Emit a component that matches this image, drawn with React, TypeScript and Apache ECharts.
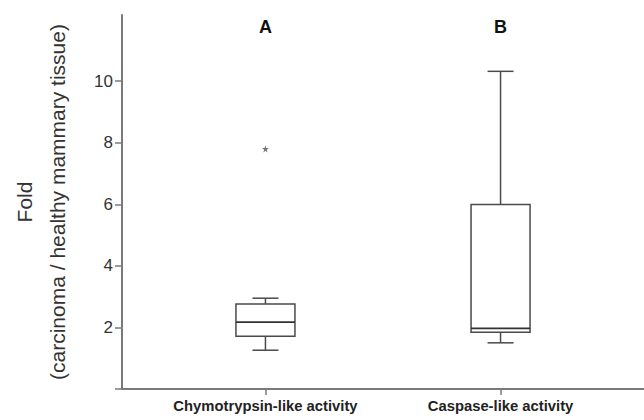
import React, { useEffect, useRef } from "react";
import * as echarts from "echarts";

const categories = ["Chymotrypsin-like activity", "Caspase-like activity"];
const panelLetters = ["A", "B"];
const whiskerLow = [1.26, 1.5];
const quartile1 = [1.71, 1.84];
const medians = [2.17, 1.97];
const quartile3 = [2.76, 5.99];
const whiskerHigh = [2.95, 10.32];
const outliers: [number, number][] = [[0, 7.8]];
const yTickLabels = [2, 4, 6, 8, 10];
const yTicks = [0, 2, 4, 6, 8, 10];

const FONT = "'Liberation Sans', Arial, Helvetica, sans-serif";

export default function App() {
  const ref = useRef<HTMLDivElement>(null);
  useEffect(() => {
    if (!ref.current) return;
    const chart = echarts.init(ref.current, null, { renderer: "svg" });
    const boxData = categories.map((_, i) => [
      i + 1,
      whiskerLow[i],
      quartile1[i],
      medians[i],
      quartile3[i],
      whiskerHigh[i],
    ]);
    const xMin = 1 - 144 / 236;
    const xMax = 2 + 144 / 236;
    const lineColor = "#4a4a4a";
    chart.setOption({
      animation: false,
      grid: { left: 122, right: -2, top: 15, bottom: 31, containLabel: false },
      xAxis: [
        {
          type: "value",
          min: xMin,
          max: xMax,
          splitLine: { show: false },
          axisLine: { show: true, lineStyle: { color: "#7a7a7a", width: 2 } },
          axisTick: {
            show: true,
            customValues: [1, 2],
            length: 6,
            lineStyle: { color: "#7a7a7a", width: 1.5 },
          },
          axisLabel: {
            customValues: [1, 2],
            formatter: (v: number) => categories[Math.round(v) - 1] ?? "",
            fontFamily: FONT,
            fontWeight: "bold",
            fontSize: 14.8,
            color: "#222",
            margin: 9,
          },
        },
        {
          type: "value",
          position: "top",
          min: xMin,
          max: xMax,
          splitLine: { show: false },
          axisLine: { show: false },
          axisTick: { show: false },
          axisLabel: {
            customValues: [1, 2],
            formatter: (v: number) => panelLetters[Math.round(v) - 1] ?? "",
            fontFamily: FONT,
            fontWeight: "bold",
            fontSize: 18,
            color: "#111",
            margin: -21,
          },
        },
      ],
      yAxis: {
        type: "value",
        min: 0,
        max: 12.15,
        name: "Fold\n(carcinoma / healthy mammary tissue)",
        nameLocation: "middle",
        nameRotate: 90,
        nameGap: 48,
        nameTextStyle: {
          fontFamily: FONT,
          fontSize: 21,
          color: "#333",
          lineHeight: 33,
          align: "center",
        },
        splitLine: { show: false },
        axisLine: { show: true, lineStyle: { color: "#7a7a7a", width: 2 } },
        axisTick: {
          show: true,
          customValues: yTicks,
          length: 7,
          lineStyle: { color: "#7a7a7a", width: 1.5 },
        },
        axisLabel: {
          customValues: yTickLabels,
          fontFamily: FONT,
          fontSize: 17,
          color: "#333",
          margin: 9,
        },
      },
      series: [
        {
          type: "custom",
          data: boxData,
          encode: { x: 0, y: [1, 2, 3, 4, 5] },
          renderItem: (params: any, api: any) => {
            const x = api.value(0);
            const cx = api.coord([x, api.value(1)])[0];
            const yLow = api.coord([x, api.value(1)])[1];
            const yQ1 = api.coord([x, api.value(2)])[1];
            const yMed = api.coord([x, api.value(3)])[1];
            const yQ3 = api.coord([x, api.value(4)])[1];
            const yHigh = api.coord([x, api.value(5)])[1];
            const halfBox = 29.5;
            const halfCap = 13;
            const style = { stroke: lineColor, lineWidth: 1.5, fill: "none" };
            return {
              type: "group",
              children: [
                { type: "line", shape: { x1: cx, y1: yHigh, x2: cx, y2: yQ3 }, style },
                { type: "line", shape: { x1: cx, y1: yQ1, x2: cx, y2: yLow }, style },
                { type: "line", shape: { x1: cx - halfCap, y1: yHigh, x2: cx + halfCap, y2: yHigh }, style },
                { type: "line", shape: { x1: cx - halfCap, y1: yLow, x2: cx + halfCap, y2: yLow }, style },
                {
                  type: "rect",
                  shape: { x: cx - halfBox, y: yQ3, width: halfBox * 2, height: yQ1 - yQ3 },
                  style: { stroke: lineColor, lineWidth: 1.5, fill: "#fff" },
                },
                { type: "line", shape: { x1: cx - halfBox, y1: yMed, x2: cx + halfBox, y2: yMed }, style: { stroke: "#333", lineWidth: 1.8 } },
              ],
            };
          },
        },
        {
          type: "scatter",
          data: outliers.map(([i, v]) => [i + 1, v]),
          symbol:
            "path://M50,0 L61,35 L98,35 L68,57 L79,91 L50,70 L21,91 L32,57 L2,35 L39,35 Z",
          symbolSize: 7,
          itemStyle: { color: "#555" },
        },
      ],
    });
    return () => chart.dispose();
  }, []);
  return (
    <div
      ref={ref}
      style={{ position: "fixed", left: 0, top: 0, width: 644, height: 420, background: "#fff" }}
    />
  );
}
